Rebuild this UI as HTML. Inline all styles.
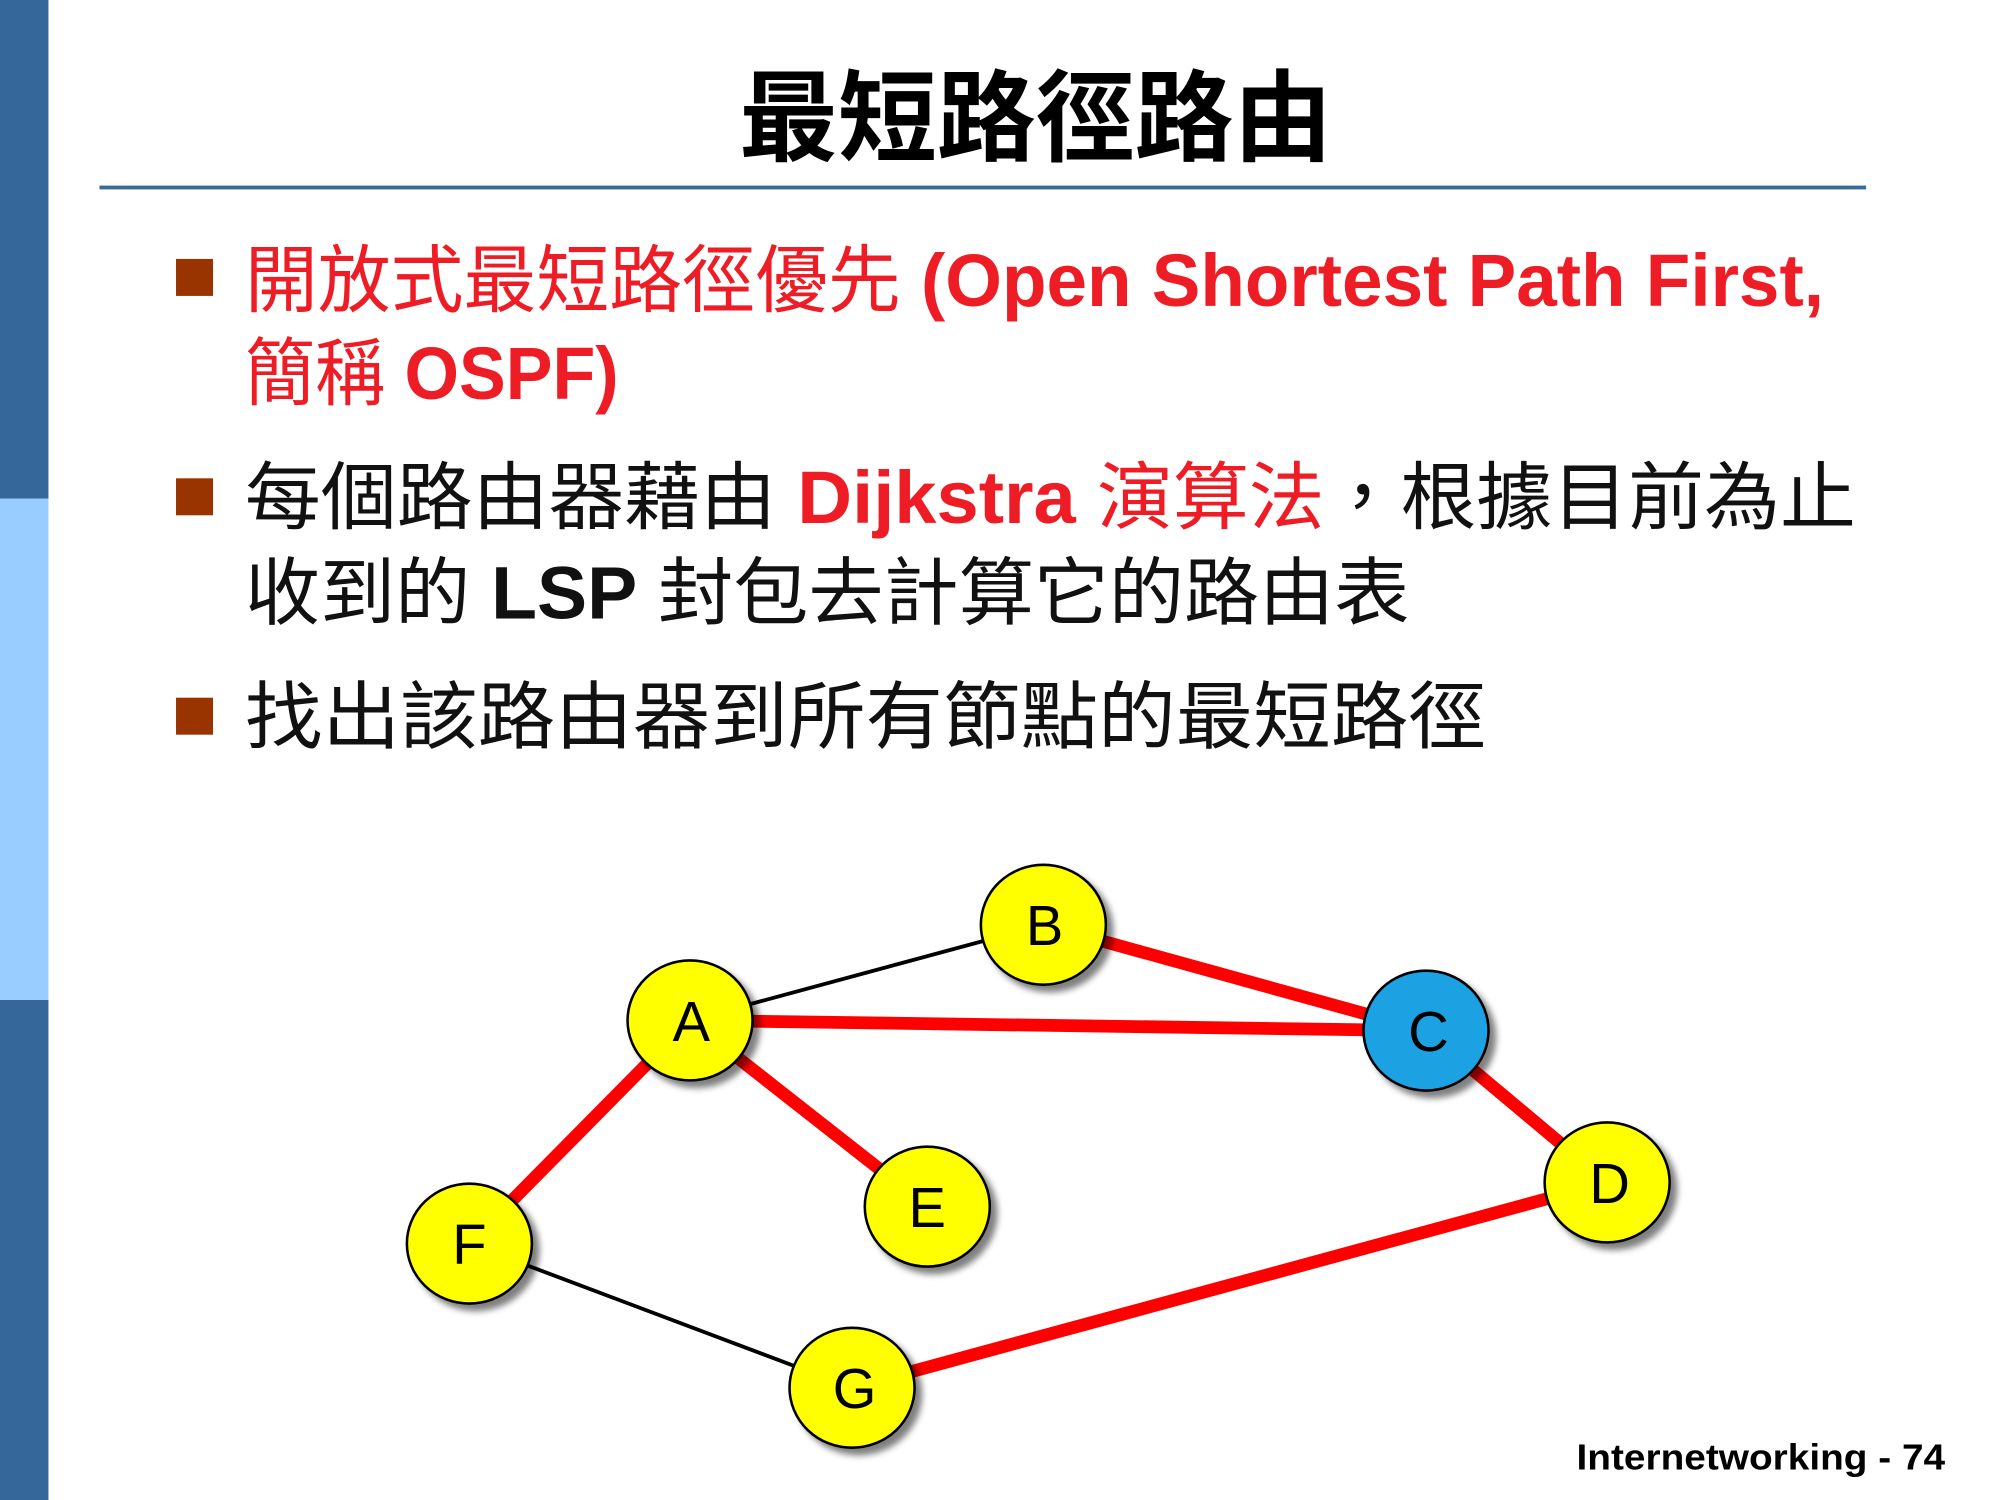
<!DOCTYPE html>
<html><head><meta charset="utf-8"><style>
html,body{margin:0;padding:0;background:#fff;}
svg{display:block;}
</style></head><body>
<svg width="2000" height="1500" viewBox="0 0 1568 1176" preserveAspectRatio="none" xmlns="http://www.w3.org/2000/svg">
<defs><filter id="sh" x="-30%" y="-30%" width="160%" height="160%"><feGaussianBlur in="SourceAlpha" stdDeviation="2.5"/><feOffset dx="5" dy="5"/><feComponentTransfer><feFuncA type="linear" slope="0.5"/></feComponentTransfer><feMerge><feMergeNode/><feMergeNode in="SourceGraphic"/></feMerge></filter></defs>
<rect width="1568" height="1176" fill="#fff"/>
<rect x="0" y="0" width="38" height="391" fill="#35679a"/>
<rect x="0" y="391" width="38" height="393" fill="#99ccff"/>
<rect x="0" y="784" width="38" height="392" fill="#35679a"/>
<text x="812" y="120" text-anchor="middle" font-family="'Liberation Sans','Noto Sans CJK TC',sans-serif" font-size="78" font-weight="bold" textLength="465" lengthAdjust="spacingAndGlyphs">最短路徑路由</text>
<rect x="78" y="145.5" width="1385" height="3" fill="#3a6a9a"/>
<g fill="#993300"><rect x="138" y="203" width="29" height="29"/><rect x="138" y="375" width="29" height="29"/><rect x="138" y="547" width="29" height="29"/></g>
<g font-family="'Liberation Sans','Noto Sans CJK TC',sans-serif" font-size="58">
<text x="192" y="240" fill="#ee1c25" textLength="1238" lengthAdjust="spacingAndGlyphs"><tspan>開放式最短路徑優先 </tspan><tspan font-weight="bold">(Open Shortest Path First,</tspan></text>
<text x="192" y="313" fill="#ee1c25" textLength="293" lengthAdjust="spacingAndGlyphs"><tspan>簡稱 </tspan><tspan font-weight="bold">OSPF)</tspan></text>
<text x="192" y="410" fill="#111" textLength="1263" lengthAdjust="spacingAndGlyphs"><tspan>每個路由器藉由 </tspan><tspan fill="#ee1c25" font-weight="bold">Dijkstra </tspan><tspan fill="#ee1c25">演算法</tspan><tspan>，根據目前為止</tspan></text>
<text x="192" y="485" fill="#111" textLength="913" lengthAdjust="spacingAndGlyphs"><tspan>收到的 </tspan><tspan font-weight="bold">LSP</tspan><tspan> 封包去計算它的路由表</tspan></text>
<text x="192" y="582" fill="#111" textLength="973" lengthAdjust="spacingAndGlyphs">找出該路由器到所有節點的最短路徑</text>
</g>
<g stroke-linecap="butt">
<line x1="541" y1="800" x2="818" y2="725" stroke="#000" stroke-width="3"/>
<line x1="368" y1="975" x2="668" y2="1088" stroke="#000" stroke-width="3"/>
<g stroke="#ff0000" stroke-width="10">
<line x1="818" y1="725" x2="1118" y2="808"/>
<line x1="541" y1="800" x2="1118" y2="808"/>
<line x1="1118" y1="808" x2="1260" y2="927"/>
<line x1="541" y1="800" x2="727" y2="946"/>
<line x1="541" y1="800" x2="368" y2="975"/>
<line x1="668" y1="1088" x2="1260" y2="927"/>
</g></g>
<g stroke="#000" stroke-width="2" filter="url(#sh)">
<ellipse cx="818" cy="725" rx="49" ry="47" fill="#ffff00"/>
<ellipse cx="541" cy="800" rx="49" ry="47" fill="#ffff00"/>
<ellipse cx="1118" cy="808" rx="49" ry="47" fill="#1ba1e2"/>
<ellipse cx="1260" cy="927" rx="49" ry="47" fill="#ffff00"/>
<ellipse cx="727" cy="946" rx="49" ry="47" fill="#ffff00"/>
<ellipse cx="368" cy="975" rx="49" ry="47" fill="#ffff00"/>
<ellipse cx="668" cy="1088" rx="49" ry="47" fill="#ffff00"/>
</g>
<g font-family="'Liberation Sans',sans-serif" font-size="44" text-anchor="middle" fill="#000">
<text x="819" y="741">B</text><text x="542" y="816">A</text><text x="1120" y="824">C</text>
<text x="1262" y="943">D</text><text x="727" y="962">E</text><text x="368" y="991">F</text><text x="670" y="1104">G</text>
</g>
<text x="1525" y="1152" text-anchor="end" font-family="'Liberation Sans',sans-serif" font-size="28" font-weight="bold" textLength="289" lengthAdjust="spacingAndGlyphs">Internetworking - 74</text>
</svg>
</body></html>
